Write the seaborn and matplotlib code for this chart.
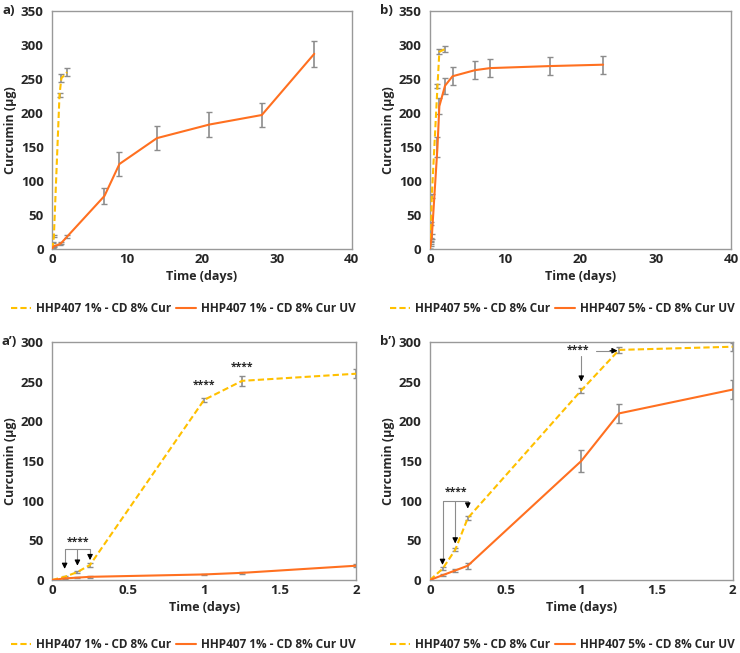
import numpy as np
import pandas as pd
import seaborn as sns
import matplotlib.pyplot as plt
from matplotlib.lines import Line2D

sns.set_style("white")
plt.rcParams['font.family'] = ['Open Sans', 'DejaVu Sans']
plt.rcParams['font.weight'] = 'bold'

# HHP407 1% - CD 8% Cur (dark)
t_1 = [0, 0.083, 0.167, 0.25, 1, 1.25, 2]
y_1 = [0, 4, 10, 19, 227, 251, 260]
e_1 = [0, 1, 1, 2, 3, 6, 6]

# HHP407 1% - CD 8% Cur UV
t_1uv = [0, 0.083, 0.167, 0.25, 1, 1.25, 2, 7, 9, 14, 21, 28, 35]
y_1uv = [0, 2, 3, 4, 7, 9, 18, 78, 125, 163, 183, 197, 287]
e_1uv = [0, 0.5, 0.5, 1, 1, 1, 2, 12, 17, 18, 18, 17, 19]

# HHP407 5% - CD 8% Cur (dark)
t_5 = [0, 0.083, 0.167, 0.25, 1, 1.25, 2]
y_5 = [0, 14, 38, 78, 239, 290, 294]
e_5 = [0, 2, 2, 3, 3, 4, 5]

# HHP407 5% - CD 8% Cur UV
t_5uv = [0, 0.083, 0.167, 0.25, 1, 1.25, 2, 3, 6, 8, 16, 23]
y_5uv = [0, 6, 12, 18, 150, 210, 240, 254, 263, 266, 269, 271]
e_5uv = [0, 1, 2, 4, 14, 12, 12, 13, 13, 13, 13, 13]

labels_1 = ['HHP407 1% - CD 8% Cur', 'HHP407 1% - CD 8% Cur UV']
labels_5 = ['HHP407 5% - CD 8% Cur', 'HHP407 5% - CD 8% Cur UV']

YELLOW = '#FFC000'
ORANGE = '#FF7020'
GREY = '#8C8C8C'
DASH = (0, (3, 1.5))
FS = 8.5
TICK_FS = 9.5
LAB_FS = 9


def draw(ax, t, y, e, color, dashed):
    df = pd.DataFrame({'t': t, 'y': y})
    sns.lineplot(data=df, x='t', y='y', ax=ax, color=color,
                 linestyle=DASH if dashed else '-', linewidth=1.5, zorder=3)
    ax.errorbar(t, y, yerr=e, fmt='none', ecolor=GREY, elinewidth=1.2,
                capsize=2.5, capthick=1, zorder=2)


def style(ax, xmax, xticks, xlabels, ymax, panel):
    ax.set_xlim(0, xmax)
    ax.set_ylim(0, ymax)
    ax.set_xticks(xticks)
    ax.set_xticklabels(xlabels)
    ax.set_yticks(np.arange(0, ymax + 1, 50))
    ax.set_xlabel('Time (days)', fontsize=LAB_FS, fontweight='bold', labelpad=3)
    ax.set_ylabel('Curcumin (µg)', fontsize=LAB_FS, fontweight='bold', labelpad=3)
    ax.tick_params(axis='both', labelsize=TICK_FS, length=3, color=GREY, pad=3)
    ax.tick_params(axis='x', direction='in')
    for s in ax.spines.values():
        s.set_color('#999999')
        s.set_linewidth(1)
    ax.text(-0.165, 1.0, panel, transform=ax.transAxes, fontsize=TICK_FS,
            fontweight='bold', ha='left', va='center')


def add_legend(fig, labels, xc, yc):
    handles = [Line2D([], [], color=YELLOW, linestyle=DASH, linewidth=1.5),
               Line2D([], [], color=ORANGE, linestyle='-', linewidth=1.5)]
    fig.legend(handles, labels, loc='center', bbox_to_anchor=(xc, yc), ncol=2,
               frameon=False, handlelength=1.7, columnspacing=0.4,
               handletextpad=0.4, prop={'weight': 'bold', 'size': FS})


def stars(ax, x, y):
    ax.text(x, y, '****', ha='center', va='center', fontsize=7.5, fontweight='bold')


def arrow(ax, x0, y0, x1, y1):
    ax.annotate('', xy=(x1, y1), xytext=(x0, y0),
                arrowprops=dict(arrowstyle='-|>', color='black', lw=0.8,
                                mutation_scale=8, shrinkA=0, shrinkB=0))


fig = plt.figure(figsize=(7.4, 6.53), dpi=100)

ax_a = fig.add_axes([0.0703, 0.6187, 0.405, 0.3645])
ax_b = fig.add_axes([0.581, 0.6187, 0.407, 0.3645])
ax_a2 = fig.add_axes([0.0703, 0.1118, 0.411, 0.3645])
ax_b2 = fig.add_axes([0.581, 0.1118, 0.409, 0.3645])

# a)
draw(ax_a, t_1, y_1, e_1, YELLOW, True)
draw(ax_a, t_1uv, y_1uv, e_1uv, ORANGE, False)
style(ax_a, 40, [0, 10, 20, 30, 40], ['0', '10', '20', '30', '40'], 350, 'a)')

# b)
draw(ax_b, t_5, y_5, e_5, YELLOW, True)
draw(ax_b, t_5uv, y_5uv, e_5uv, ORANGE, False)
style(ax_b, 40, [0, 10, 20, 30, 40], ['0', '10', '20', '30', '40'], 350, 'b)')

# a')
short_ticks = [0, 0.5, 1, 1.5, 2]
short_labels = ['0', '0.5', '1', '1.5', '2']
draw(ax_a2, t_1, y_1, e_1, YELLOW, True)
draw(ax_a2, t_1uv, y_1uv, e_1uv, ORANGE, False)
style(ax_a2, 2, short_ticks, short_labels, 300, 'a\u2019)')
ax_a2.plot([0.083, 0.25], [39, 39], color=GREY, lw=0.8)
for xa, tip in zip([0.083, 0.167, 0.25], [14, 18, 25]):
    ax_a2.plot([xa, xa], [39, tip + 6], color=GREY, lw=0.8)
    arrow(ax_a2, xa, tip + 6, xa, tip)
stars(ax_a2, 0.17, 47)
stars(ax_a2, 1.0, 245)
stars(ax_a2, 1.25, 268)

# b')
draw(ax_b2, t_5, y_5, e_5, YELLOW, True)
draw(ax_b2, t_5uv, y_5uv, e_5uv, ORANGE, False)
style(ax_b2, 2, short_ticks, short_labels, 300, 'b\u2019)')
ax_b2.plot([0.083, 0.25], [100, 100], color=GREY, lw=0.8)
for xa, tip in zip([0.083, 0.167, 0.25], [19, 46, 90]):
    ax_b2.plot([xa, xa], [100, tip + 6], color=GREY, lw=0.8)
    arrow(ax_b2, xa, tip + 6, xa, tip)
stars(ax_b2, 0.17, 110)
stars(ax_b2, 0.98, 289)
ax_b2.plot([1.0, 1.0], [282, 256], color=GREY, lw=0.8)
arrow(ax_b2, 1.0, 257, 1.0, 250)
ax_b2.plot([1.1, 1.2], [289, 289], color=GREY, lw=0.8)
arrow(ax_b2, 1.19, 289, 1.24, 289)

add_legend(fig, labels_1, 0.248, 0.528)
add_legend(fig, labels_5, 0.76, 0.528)
add_legend(fig, labels_1, 0.248, 0.013)
add_legend(fig, labels_5, 0.76, 0.013)

fig.savefig('out.png', dpi=100)
